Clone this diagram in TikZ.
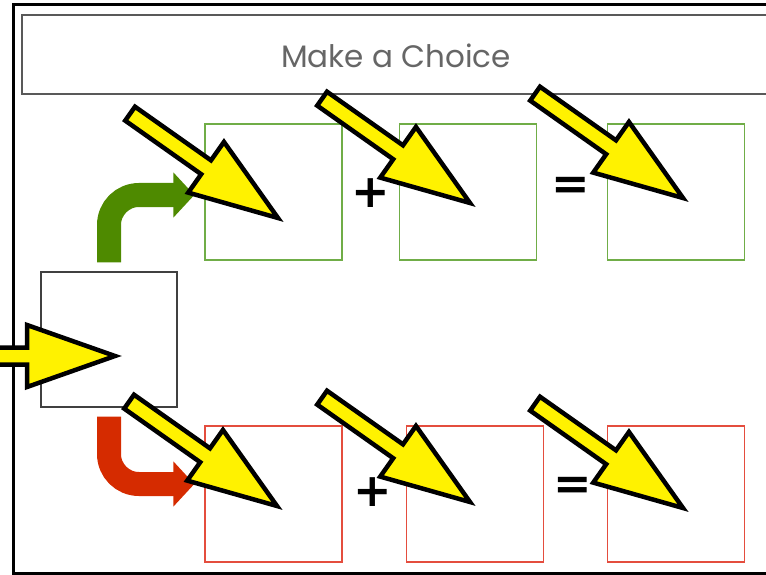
\documentclass[tikz,border=0pt]{standalone}
\usepackage{fontspec}
\newfontfamily\titlefont{Poppins}
\newfontfamily\signfont{DejaVu Sans}
\usetikzlibrary{arrows.meta}
\pgfdeclarelayer{edgelayer}
\pgfdeclarelayer{nodelayer}
\pgfsetlayers{edgelayer,nodelayer,main}
\definecolor{goodfill}{RGB}{78,138,0}
\definecolor{goodline}{RGB}{112,173,71}
\definecolor{badfill}{RGB}{213,43,0}
\definecolor{badline}{RGB}{228,77,62}
\tikzstyle{frame}=[draw=black,line width=3pt]
\tikzstyle{header}=[draw=black!65,line width=1.5pt]
\tikzstyle{start}=[draw=black!75,line width=1.3pt,minimum width=136pt,minimum height=135pt,inner sep=0pt]
\tikzstyle{good}=[draw=goodline,line width=1.3pt,minimum width=137pt,minimum height=136pt,inner sep=0pt]
\tikzstyle{bad}=[draw=badline,line width=1.3pt,minimum width=137pt,minimum height=136pt,inner sep=0pt]
\tikzstyle{sign}=[font=\signfont\bfseries\fontsize{46}{46}\selectfont,inner sep=0pt]
\tikzstyle{branch}=[line width=24pt,rounded corners=30pt,-{Triangle[length=21pt,width=44pt]}]
\tikzstyle{pointer}=[fill=yellow,draw=black,line width=4.5pt,line join=miter]
\newcommand{\pointat}[2]{%
	\begin{scope}[shift={#1},rotate=#2]
		\draw [style=pointer] (-181,-8.5) -- (-88,-8.5) -- (-88,-31) -- (0,0) -- (-88,31) -- (-88,8.5) -- (-181,8.5) -- cycle;
	\end{scope}}

\begin{document}
\begin{tikzpicture}[x=1pt,y=-1pt]
	\useasboundingbox (0,0) rectangle (766,575);
	\begin{pgfonlayer}{nodelayer}
		\draw [style=frame] (13,5) rectangle (790,573);
		\draw [style=header] (22,15) rectangle (790,94);
		\node [font=\titlefont\fontsize{31}{31}\selectfont, text=black!60] (11) at (396,56) {Make a Choice};
		\node [style=start] (0) at (109,339.5) {};
		\node [style=good] (1) at (273.5,192) {};
		\node [style=good] (2) at (468,192) {};
		\node [style=good] (3) at (676,192) {};
		\node [style=bad] (4) at (273.5,494) {};
		\node [style=bad] (5) at (475,494) {};
		\node [style=bad] (6) at (676,494) {};
		\node [style=sign] (7) at (371,193) {+};
		\node [style=sign] (8) at (571,188) {=};
		\node [style=sign] (9) at (373,492) {+};
		\node [style=sign] (10) at (573,488) {=};
	\end{pgfonlayer}
	\begin{pgfonlayer}{edgelayer}
		\draw [style=branch, goodfill] ([yshift=9pt]0.north) |- ([xshift=-10pt,yshift=-3pt]1.west);
		\draw [style=branch, badfill] ([yshift=-9pt]0.south) |- ([xshift=-10pt,yshift=10pt]4.west);
	\end{pgfonlayer}
	% yellow pointers, given by their tips
	\pointat{(115,356)}{0}
	\pointat{(278,218)}{-35.2}
	\pointat{(470,203)}{-35.2}
	\pointat{(683,198)}{-35.2}
	\pointat{(277,506)}{-35.2}
	\pointat{(470,502)}{-35.2}
	\pointat{(683,508)}{-35.2}
\end{tikzpicture}
\end{document}
